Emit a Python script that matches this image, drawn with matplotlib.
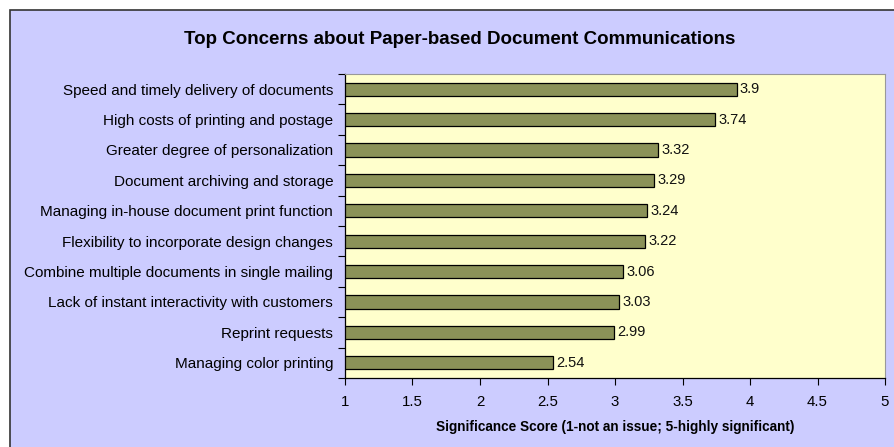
import matplotlib
matplotlib.use('Agg')
import matplotlib.pyplot as plt
from matplotlib.patches import Rectangle

concerns = [
    'Speed and timely delivery of documents',
    'High costs of printing and postage',
    'Greater degree of personalization',
    'Document archiving and storage',
    'Managing in-house document print function',
    'Flexibility to incorporate design changes',
    'Combine multiple documents in single mailing',
    'Lack of instant interactivity with customers',
    'Reprint requests',
    'Managing color printing',
]
scores = [3.9, 3.74, 3.32, 3.29, 3.24, 3.22, 3.06, 3.03, 2.99, 2.54]
x_ticks = [1, 1.5, 2, 2.5, 3, 3.5, 4, 4.5, 5]

plt.rcParams['font.family'] = ['Liberation Sans', 'DejaVu Sans']

fig = plt.figure(figsize=(8.95, 4.47), dpi=100)
fig.patch.set_facecolor('white')
W, H = 895, 447
# chart area with lavender fill and dark border (runs off right/bottom)
fig.patches.append(Rectangle((10 / W, -0.1), 1.1, 1 - 10 / H + 0.1,
                             transform=fig.transFigure, facecolor='#CCCCFF',
                             edgecolor='#333333', linewidth=1.2, zorder=-5))

ax = fig.add_axes([345 / W, 1 - 378 / H, (885 - 345) / W, (378 - 74) / H])
ax.set_zorder(2)
ax.set_facecolor('#FFFFCC')

n = len(concerns)
ypos = list(range(n))
ax.barh(ypos, [s - 1 for s in scores], left=1, height=0.44,
        color='#8B9258', edgecolor='black', linewidth=0.9, zorder=3)
for y, s in zip(ypos, scores):
    ax.text(s + 0.025, y, f'{s:g}', va='center', ha='left', fontsize=10.5, color='#111111')

ax.set_xlim(1, 5)
ax.set_ylim(n - 0.5, -0.5)
ax.set_xticks(x_ticks)
ax.set_xticklabels([f'{t:g}' for t in x_ticks], fontsize=10.8)
ax.set_yticks(ypos)
ax.set_yticklabels(concerns, fontsize=11)
ax.tick_params(axis='y', length=0, pad=8.5)
ax.set_yticks([i - 0.5 for i in range(n + 1)], minor=True)
ax.tick_params(axis='y', which='minor', length=5, direction='out', width=0.8)
ax.tick_params(axis='x', length=5, direction='out', width=0.8, pad=7)

for side in ['top', 'right']:
    ax.spines[side].set_color('#999999')
    ax.spines[side].set_linewidth(0.8)
for side in ['left', 'bottom']:
    ax.spines[side].set_color('black')
    ax.spines[side].set_linewidth(0.9)

fig.text(615 / W, 1 - 427 / H, 'Significance Score (1-not an issue; 5-highly significant)',
         ha='center', va='center', fontsize=9.8, fontweight='bold')
fig.text(460 / W, 1 - 39 / H, 'Top Concerns about Paper-based Document Communications',
         ha='center', va='center', fontsize=13.5, fontweight='bold')

fig.savefig('out.png', dpi=100)
